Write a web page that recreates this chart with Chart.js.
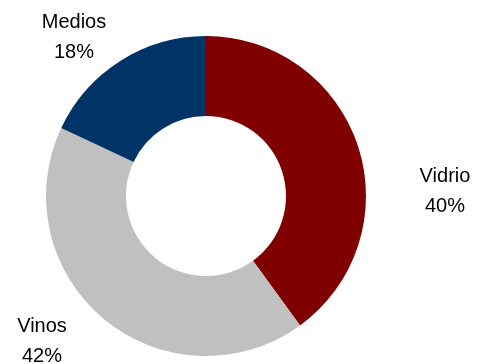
<!DOCTYPE html>
<html>
<head>
<meta charset="utf-8">
<script src="https://cdn.jsdelivr.net/npm/chart.js@4"></script>
<style>
  html, body { margin: 0; padding: 0; background: #fff; }
  #wrap { width: 477px; height: 364px; }
</style>
</head>
<body>
<div id="wrap"><canvas id="chart-dona" width="477" height="364"></canvas></div>
<script>
const categorias = ['Vidrio', 'Vinos', 'Medios'];
const porcentajes = [40, 42, 18];
const colores = ['#800000', '#c0c0c0', '#003366'];

// baseline of the name line, the % line goes 30px below
const posEtiquetas = {
  Vidrio: { x: 445, y: 182 },
  Vinos: { x: 42, y: 332 },
  Medios: { x: 74, y: 28 }
};

const etiquetasPlugin = {
  id: 'etiquetas',
  afterDraw(chart) {
    const ctx = chart.ctx;
    ctx.save();
    ctx.fillStyle = '#000';
    ctx.font = '20px "Liberation Sans", Arial, sans-serif';
    ctx.textAlign = 'center';
    ctx.textBaseline = 'alphabetic';
    chart.data.labels.forEach((lab, i) => {
      const p = posEtiquetas[lab];
      ctx.fillText(lab, p.x, p.y);
      ctx.fillText(chart.data.datasets[0].data[i] + '%', p.x, p.y + 30);
    });
    ctx.restore();
  }
};

new Chart(document.getElementById('chart-dona'), {
  type: 'doughnut',
  data: {
    labels: categorias,
    datasets: [{
      data: porcentajes,
      backgroundColor: colores,
      borderWidth: 0
    }]
  },
  options: {
    responsive: false,
    animation: false,
    cutout: '50%',
    layout: { padding: { left: 46, right: 111, top: 36, bottom: 8 } },
    plugins: {
      legend: { display: false },
      tooltip: { enabled: false }
    }
  },
  plugins: [etiquetasPlugin]
});
</script>
</body>
</html>
